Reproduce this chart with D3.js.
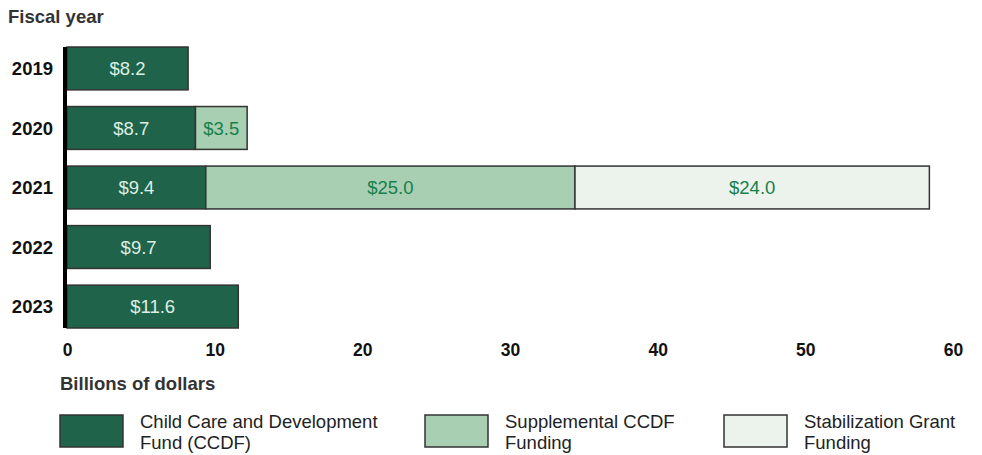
<!DOCTYPE html>
<html><head><meta charset="utf-8">
<script src="https://cdn.jsdelivr.net/npm/d3@7"></script>
<style>body{margin:0;background:#fff;} text{font-family:"Liberation Sans",Arial,sans-serif;}</style>
</head><body>
<svg id="c" width="982" height="455"></svg>
<script>
const years = ["2019","2020","2021","2022","2023"];
const ccdf = [8.2, 8.7, 9.4, 9.7, 11.6];
const supplemental = [0, 3.5, 25.0, 0, 0];
const stabilization = [0, 0, 24.0, 0, 0];
const xTicks = [0,10,20,30,40,50,60];
const seriesNames = ["Child Care and Development Fund (CCDF)", "Supplemental CCDF Funding", "Stabilization Grant Funding"];
const legendLines = [["Child Care and Development","Fund (CCDF)"],["Supplemental CCDF","Funding"],["Stabilization Grant","Funding"]];
const colors = ["#1f634b","#a8cfb1","#ebf3ec"];
const labelColors = ["#dcefe2","#17804d","#17804d"];

const svg = d3.select("#c");
const x = d3.scaleLinear().domain([0,60]).range([67,953]);
const y = d3.scaleBand().domain(years).range([47,328]).paddingInner(0.28).paddingOuter(0);

const rows = years.map((yr,i)=>({yr, vals:[ccdf[i],supplemental[i],stabilization[i]]}));
const stack = d3.stack().keys([0,1,2]).value((d,k)=>d.vals[k]);
const stacked = stack(rows);

stacked.forEach((layer,k)=>{
  const g = svg.append("g");
  layer.forEach((seg,i)=>{
    if (seg[1]-seg[0] <= 0) return;
    g.append("rect")
      .attr("x", x(seg[0])).attr("y", y(years[i]))
      .attr("width", x(seg[1])-x(seg[0])).attr("height", y.bandwidth())
      .attr("fill", colors[k]).attr("stroke","#333").attr("stroke-width",1.5);
    g.append("text")
      .attr("x", (x(seg[0])+x(seg[1]))/2).attr("y", y(years[i])+y.bandwidth()/2)
      .attr("dy","0.36em").attr("text-anchor","middle")
      .attr("font-size",18.5).attr("fill",labelColors[k])
      .text("$"+(seg[1]-seg[0]).toFixed(1));
  });
});

// y axis line
svg.append("line").attr("x1",65).attr("x2",65).attr("y1",47).attr("y2",328)
  .attr("stroke","#000").attr("stroke-width",4);

// year labels
svg.append("g").selectAll("text").data(years).join("text")
  .attr("x",53).attr("y",d=>y(d)+y.bandwidth()/2).attr("dy","0.36em")
  .attr("text-anchor","end").attr("font-weight","bold").attr("font-size",18.5).attr("fill","#111")
  .text(d=>d);

// x axis
const xAxis = d3.axisBottom(x).tickValues(xTicks).tickSize(0).tickPadding(0);
const ga = svg.append("g").attr("transform","translate(0,345)").call(xAxis);
ga.select(".domain").remove();
ga.selectAll("text").attr("font-size",17.5).attr("font-weight","bold").attr("fill","#111")
  .attr("font-family","Liberation Sans, Arial, sans-serif").attr("dy","0.6em");

svg.append("text").attr("x",8).attr("y",23).attr("font-weight","bold").attr("font-size",18.5).attr("fill","#333").text("Fiscal year");
svg.append("text").attr("x",60).attr("y",390).attr("font-weight","bold").attr("font-size",18.5).attr("fill","#333").text("Billions of dollars");

// legend
const legX = [60, 425, 724];
seriesNames.forEach((n,k)=>{
  const g = svg.append("g").attr("transform",`translate(${legX[k]},415)`);
  g.append("rect").attr("x",0).attr("y",0).attr("width",63).attr("height",32)
    .attr("fill",colors[k]).attr("stroke","#333").attr("stroke-width",1.5);
  legendLines[k].forEach((ln,j)=>{
    g.append("text").attr("x",80).attr("y",13+j*21).attr("font-size",18.5).attr("fill","#222").text(ln);
  });
});
</script>
</body></html>
